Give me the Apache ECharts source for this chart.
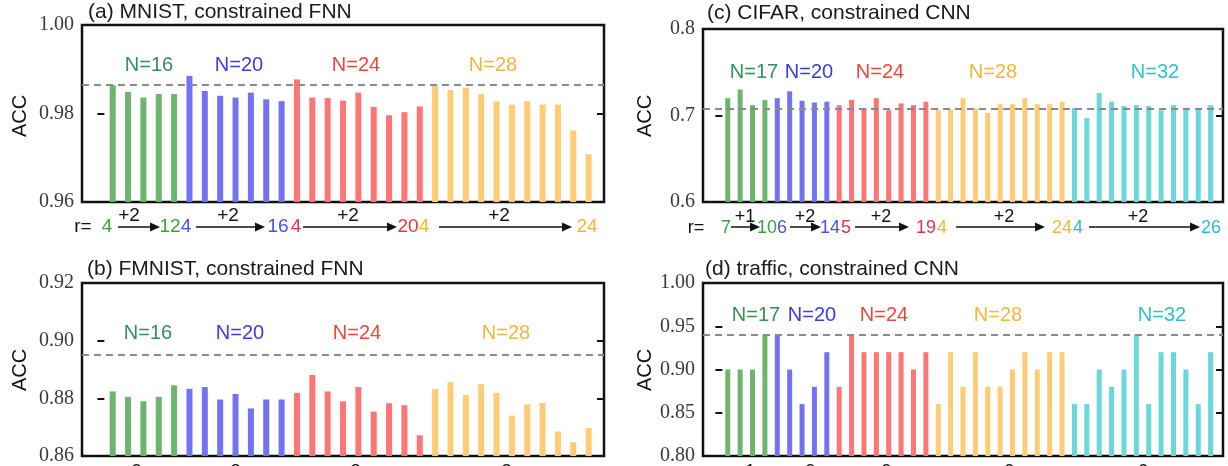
<!DOCTYPE html>
<html>
<head>
<meta charset="utf-8">
<script src="https://cdn.jsdelivr.net/npm/echarts@6/dist/echarts.min.js"></script>
<style>
html,body{margin:0;padding:0;background:#fff;}
#chart{width:1228px;height:466px;}
</style>
</head>
<body>
<div id="chart"></div>
<script>
// ---------------- data ----------------
// (a) MNIST, constrained FNN
const mnistN16 = [0.9864, 0.9849, 0.9836, 0.9844, 0.9844];
const mnistN20 = [0.9885, 0.9851, 0.9840, 0.9836, 0.9847, 0.9832, 0.9828];
const mnistN24 = [0.9877, 0.9836, 0.9835, 0.9829, 0.9847, 0.9815, 0.9796, 0.9803, 0.9816];
const mnistN28 = [0.9863, 0.9853, 0.9858, 0.9844, 0.9827, 0.9820, 0.9828, 0.9820, 0.9820, 0.9762, 0.9708];
const mnistRef = 0.9864;
const mnistTicks = [0.96, 0.98, 1.00];

// (b) FMNIST, constrained FNN
const fmnistN16 = [0.8824, 0.8805, 0.8790, 0.8805, 0.8845];
const fmnistN20 = [0.8833, 0.8839, 0.8796, 0.8815, 0.8765, 0.8796, 0.8796];
const fmnistN24 = [0.8819, 0.8881, 0.8824, 0.8790, 0.8839, 0.8754, 0.8783, 0.8776, 0.8672];
const fmnistN28 = [0.8832, 0.8856, 0.8812, 0.8849, 0.8819, 0.8740, 0.8779, 0.8784, 0.8685, 0.8648, 0.8697];
const fmnistRef = 0.8951;
const fmnistTicks = [0.86, 0.88, 0.90, 0.92];

// (c) CIFAR, constrained CNN
const cifarN17 = [0.720, 0.730, 0.712, 0.718];
const cifarN20 = [0.720, 0.728, 0.717, 0.715, 0.716];
const cifarN24 = [0.712, 0.718, 0.708, 0.720, 0.706, 0.714, 0.712, 0.716];
const cifarN28 = [0.706, 0.707, 0.720, 0.708, 0.703, 0.713, 0.713, 0.720, 0.713, 0.713, 0.716];
const cifarN32 = [0.709, 0.697, 0.726, 0.716, 0.711, 0.712, 0.711, 0.706, 0.712, 0.709, 0.707, 0.712];
const cifarRef = 0.708;
const cifarTicks = [0.6, 0.7, 0.8];

// (d) traffic, constrained CNN
const trafficN17 = [0.90, 0.90, 0.90, 0.94];
const trafficN20 = [0.94, 0.90, 0.86, 0.88, 0.92];
const trafficN24 = [0.88, 0.94, 0.92, 0.92, 0.92, 0.92, 0.90, 0.92];
const trafficN28 = [0.86, 0.92, 0.88, 0.92, 0.88, 0.88, 0.90, 0.92, 0.90, 0.92, 0.92];
const trafficN32 = [0.86, 0.86, 0.90, 0.88, 0.90, 0.94, 0.86, 0.92, 0.92, 0.90, 0.86, 0.92];
const trafficRef = 0.94;
const trafficTicks = [0.80, 0.85, 0.90, 0.95, 1.00];

const fnnGroupNames = ['N=16', 'N=20', 'N=24', 'N=28'];
const cnnGroupNames = ['N=17', 'N=20', 'N=24', 'N=28', 'N=32'];
const fnnRLabels = ['4', '12', '4', '16', '4', '20', '4', '24'];
const cnnRLabels = ['7', '10', '6', '14', '5', '19', '4', '24', '4', '26'];
const fnnSteps = ['+2', '+2', '+2', '+2'];
const cnnSteps = ['+1', '+2', '+2', '+2', '+2'];

// ---------------- styling ----------------
const barColors = ['#6db46d', '#7272f2', '#ff7474', '#ffcb74', '#6ad8d8'];
const nColors   = ['#2f9256', '#3b3be6', '#f04636', '#f6b43c', '#2bc2cc'];
const rColors   = ['#33a83a', '#4c4cf2', '#ee3048', '#f8b630', '#2cbcd8'];
const SANS = 'Liberation Sans, Arial, sans-serif';
const SERIF = 'Liberation Serif, Times New Roman, serif';

const panels = [
  {title: '(a) MNIST, constrained FNN', grid: {left: 82, top: 25, width: 522, height: 177},
   xMin: -1, xMax: 33, barW: 6, groups: [mnistN16, mnistN20, mnistN24, mnistN28],
   ticks: mnistTicks, dec: 2, ref: mnistRef, names: fnnGroupNames,
   titlePos: [88, 14], accPos: [20, 116], nY: 65, nX: [149, 239, 356, 493]},
  {title: '(b) FMNIST, constrained FNN', grid: {left: 82, top: 283, width: 522, height: 175},
   xMin: -1, xMax: 33, barW: 6, groups: [fmnistN16, fmnistN20, fmnistN24, fmnistN28],
   ticks: fmnistTicks, dec: 2, ref: fmnistRef, names: fnnGroupNames,
   titlePos: [87, 271], accPos: [20, 370], nY: 333, nX: [148, 240, 357, 506]},
  {title: '(c) CIFAR, constrained CNN', grid: {left: 703, top: 29, width: 520, height: 173},
   xMin: -1, xMax: 41, barW: 5, groups: [cifarN17, cifarN20, cifarN24, cifarN28, cifarN32],
   ticks: cifarTicks, dec: 1, ref: cifarRef, names: cnnGroupNames,
   titlePos: [707, 15], accPos: [645, 116], nY: 72, nX: [754, 809, 880, 993, 1155]},
  {title: '(d) traffic, constrained CNN', grid: {left: 703, top: 283, width: 520, height: 175},
   xMin: -1, xMax: 41, barW: 5, groups: [trafficN17, trafficN20, trafficN24, trafficN28, trafficN32],
   ticks: trafficTicks, dec: 2, ref: trafficRef, names: cnnGroupNames,
   titlePos: [705, 271], accPos: [645, 370], nY: 315, nX: [756, 812, 884, 998, 1162]}
];

// ---------------- build option ----------------
const grids = [], xAxes = [], yAxes = [], series = [], graphics = [];

panels.forEach((p, gi) => {
  grids.push(Object.assign({show: true, borderColor: '#111', borderWidth: 2.5,
    backgroundColor: 'transparent', containLabel: false}, p.grid));
  xAxes.push({type: 'value', gridIndex: gi, min: p.xMin, max: p.xMax, show: false});
  const tmin = p.ticks[0], tmax = p.ticks[p.ticks.length - 1];
  const interval = +(p.ticks[1] - p.ticks[0]).toFixed(4);
  const yBase = {type: 'value', gridIndex: gi, min: tmin, max: tmax, interval: interval,
    axisLine: {show: false}, splitLine: {show: false},
    axisTick: {show: true, inside: true, length: 7, lineStyle: {color: '#111', width: 2}}};
  yAxes.push(Object.assign({}, yBase, {position: 'left',
    axisLabel: {show: true, margin: 8, color: '#3a3a3a', fontFamily: SERIF, fontSize: 20,
      formatter: v => v.toFixed(p.dec)}}));
  yAxes.push(Object.assign({}, yBase, {position: 'right', axisLabel: {show: false}}));

  let idx = 1;
  p.groups.forEach((vals, k) => {
    const data = vals.map(v => [idx++, v]);
    const s = {type: 'bar', xAxisIndex: gi, yAxisIndex: gi * 2, data: data,
      barWidth: p.barW, barGap: '-100%', itemStyle: {color: barColors[k]}, silent: true};
    if (k === 0) {
      s.markLine = {silent: true, precision: 6, symbol: ['none', 'none'], label: {show: false},
        lineStyle: {type: [7, 5], color: '#8a8a8a', width: 2}, data: [{yAxis: p.ref}]};
    }
    series.push(s);
  });

  graphics.push({type: 'text', left: p.titlePos[0], top: p.titlePos[1] - 12,
    style: {text: p.title, fill: '#1a1a1a', font: '21px ' + SANS}});
  graphics.push({type: 'text', x: p.accPos[0], y: p.accPos[1], rotation: Math.PI / 2,
    style: {text: 'ACC', fill: '#111', font: '20px ' + SANS, textAlign: 'center', textVerticalAlign: 'middle'}});
  p.names.forEach((nm, k) => {
    graphics.push({type: 'text', x: p.nX[k], y: p.nY,
      style: {text: nm, fill: nColors[k], font: '20px ' + SANS, textAlign: 'center', textVerticalAlign: 'middle'}});
  });
});

function txt(x, y, s, color, size) {
  graphics.push({type: 'text', x: x, y: y,
    style: {text: s, fill: color, font: size + 'px ' + SANS, textAlign: 'center', textVerticalAlign: 'middle'}});
}
function arrow(x1, x2, y) {
  graphics.push({type: 'line', shape: {x1: x1, y1: y, x2: x2 - 6, y2: y}, style: {stroke: '#111', lineWidth: 1.5}});
  graphics.push({type: 'polygon', shape: {points: [[x2, y], [x2 - 10, y - 4.5], [x2 - 10, y + 4.5]]}, style: {fill: '#111'}});
}

// r= row for (a)
const fnnRX = [107, 170, 186, 278, 296, 408, 424, 587];
const fnnRCol = [0, 0, 1, 1, 2, 2, 3, 3];
const fnnStepX = [129, 228, 348, 499];
const fnnArrows = [[118, 160], [196, 265], [303, 397], [439, 572]];
txt(83, 227, 'r=', '#111', 19);
fnnRLabels.forEach((s, i) => txt(fnnRX[i], 227, s, rColors[fnnRCol[i]], 19));
fnnSteps.forEach((s, i) => txt(fnnStepX[i], 216, s, '#111', 19));
fnnArrows.forEach(a => arrow(a[0], a[1], 227));
// cut-off step labels under (b)
fnnSteps.forEach((s, i) => txt(fnnStepX[i] + 2, 472, s, '#111', 19));

// r= row for (c)
const cnnRX = [726, 767, 782, 830, 846, 926, 942, 1062, 1078, 1211];
const cnnRCol = [0, 0, 1, 1, 2, 2, 3, 3, 4, 4];
const cnnStepX = [745, 805, 881, 1004, 1138];
const cnnArrows = [[731, 760], [790, 821], [855, 909], [956, 1045], [1089, 1200]];
txt(696, 228, 'r=', '#111', 18);
cnnRLabels.forEach((s, i) => txt(cnnRX[i], 228, s, rColors[cnnRCol[i]], 18));
cnnSteps.forEach((s, i) => txt(cnnStepX[i], 217, s, '#111', 18));
cnnArrows.forEach(a => arrow(a[0], a[1], 227));
// cut-off step labels under (d)
cnnSteps.forEach((s, i) => txt(cnnStepX[i], 472, s, '#111', 18));

const chart = echarts.init(document.getElementById('chart'), null, {renderer: 'canvas'});
chart.setOption({
  animation: false,
  backgroundColor: '#fff',
  grid: grids, xAxis: xAxes, yAxis: yAxes, series: series, graphic: graphics
});
</script>
</body>
</html>
